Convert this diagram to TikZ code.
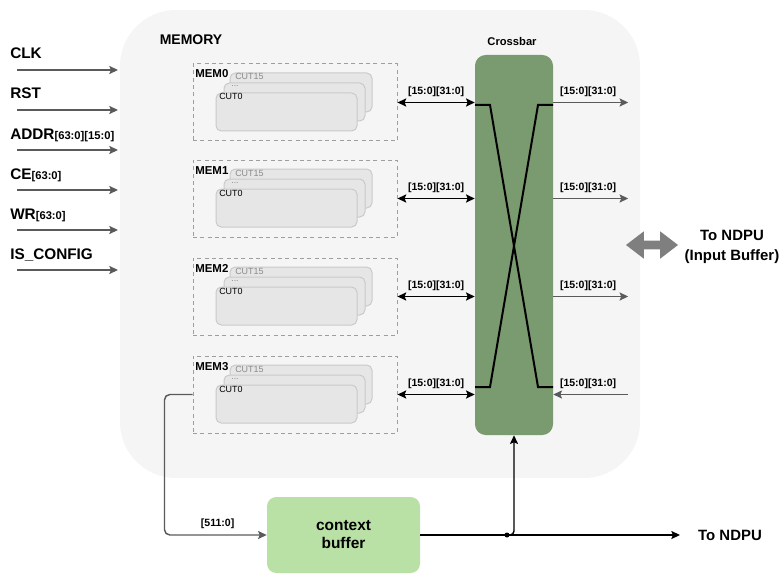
\documentclass[tikz,border=0pt]{standalone}
\usepackage{fontspec}
\setmainfont{Liberation Sans}
\usetikzlibrary{arrows.meta,shapes.arrows,calc,fit}

\definecolor{membg}{HTML}{F5F5F5}
\definecolor{cutfill}{HTML}{E6E6E6}
\definecolor{cutline}{HTML}{CACACA}
\definecolor{cutgray}{HTML}{8A8A8A}
\definecolor{dashline}{HTML}{9E9E9E}
\definecolor{xbarfill}{HTML}{7A9A6F}
\definecolor{ctxfill}{HTML}{B9E0A5}
\definecolor{wire}{HTML}{5A5A5A}
\definecolor{fatarrow}{HTML}{7F7F7F}

\newcommand{\bussub}[1]{{\fontsize{8.4}{10}\selectfont #1}}

\begin{document}
\begin{tikzpicture}[x=0.75pt,y=-0.75pt,
  memarea/.style={fill=membg, draw=none, rounded corners=42pt, inner sep=0pt},
  memblk/.style={draw=dashline, dash pattern=on 3pt off 2.5pt, line width=0.75pt, inner sep=0pt},
  card/.style={fill=cutfill, draw=cutline, line width=0.75pt, rounded corners=4pt},
  xbarbox/.style={fill=xbarfill, draw=none, rounded corners=8pt, inner sep=0pt},
  ctxbox/.style={fill=ctxfill, draw=none, rounded corners=7pt, inner sep=0pt, align=center,
    font=\fontsize{11.6}{13.5}\selectfont\bfseries},
  inlab/.style={anchor=base west, inner sep=0pt, font=\fontsize{11.5}{14}\selectfont\bfseries},
  buslab/.style={font=\fontsize{7.9}{9}\selectfont\bfseries, inner sep=1.5pt},
  memlab/.style={anchor=base west, inner sep=0pt, font=\fontsize{8.6}{10}\selectfont\bfseries},
  cutlab/.style={anchor=base west, inner sep=0pt, font=\fontsize{6.7}{8}\selectfont},
  titlelab/.style={inner sep=0pt, font=\fontsize{8.4}{10}\selectfont\bfseries},
  tip/.tip={Stealth[length=6.5pt,width=6pt,inset=1.2pt]},
  graywire/.style={draw=wire, line width=1.1pt, -tip},
  blackwire/.style={draw=black, line width=1.1pt, -tip},
  biwire/.style={draw=black, line width=1.3pt, tip-tip},
  crossline/.style={draw=black, line width=1.5pt},
]
\useasboundingbox (0,0) rectangle (784,574);

% memory area
\node[memarea, fit={(120,10) (640,478)}] (memory) {};
\node[titlelab, font=\fontsize{10.5}{12}\selectfont\bfseries] (memtitle) at (191,40) {MEMORY};

% crossbar
\node[xbarbox, fit={(475,55) (553,435)}] (xbar) {};
\node[titlelab] (xbtitle) at (512,41) {Crossbar};
\draw[crossline] (475,105) -- (490,105) -- (538,387) -- (553,387);
\draw[crossline] (553,105) -- (538,105) -- (490,387) -- (475,387);

% memory banks, each a stack of cuts
\foreach \i/\t in {0/64,1/160,2/258,3/356}{
  \node[memblk, fit={(193,\t) (397,\t+77)}] (mem\i) {};
  \draw[card] (230,\t+9) rectangle (372,\t+48);
  \draw[card] (224,\t+19) rectangle (365,\t+57);
  \draw[card] (216,\t+29) rectangle (357,\t+67);
  \node[memlab] (memname\i) at (195,\t+14) {MEM\i};
  \node[cutlab, text=cutgray] (cutlast\i) at (235,\t+16) {CUT15};
  \node[cutlab, text=cutgray] (cutdots\i) at (231,\t+23) {...};
  \node[cutlab] (cutfirst\i) at (219,\t+36) {CUT0};
  \draw[biwire] (mem\i.east) -- (mem\i.east -| xbar.west)
    node[buslab, midway, above=2pt] {[15:0][31:0]};
}

% crossbar outputs
\foreach \i in {0,1,2}{
  \coordinate (out\i) at ($(mem\i -| xbar.east)+(75,0)$);
  \draw[graywire] (mem\i -| xbar.east) -- (out\i)
    node[buslab, midway, above=2pt, xshift=-2pt] {[15:0][31:0]};
}
\coordinate (in3) at ($(mem3 -| xbar.east)+(75,0)$);
\draw[graywire] (in3) -- (mem3 -| xbar.east)
  node[buslab, midway, above=2pt, xshift=-2pt] {[15:0][31:0]};

% link to the NDPU input buffer
\node[double arrow, fill=fatarrow, draw=none, inner sep=3pt, minimum height=39pt,
  minimum width=15pt, double arrow tip angle=75, double arrow head indent=0pt] (fat) at (652,245) {};
\node[align=center, inner sep=0pt, font=\fontsize{11.2}{15}\selectfont\bfseries]
  (ndpuin) at (732,247) {To NDPU\\(Input Buffer)};

% control inputs
\foreach \n/\y/\txt in {clk/70/CLK, rst/110/RST, addr/150/{ADDR\bussub{[63:0][15:0]}},
    ce/190/{CE\bussub{[63:0]}}, wr/230/{WR\bussub{[63:0]}}, cfg/270/IS\_CONFIG}{
  \node[inlab] (\n) at (10,\y-11) {\txt};
  \coordinate (\n src) at (17,\y);
  \coordinate (\n dst) at (118,\y);
  \draw[graywire] (\n src) -- (\n dst);
}

% context buffer
\node[ctxbox, fit={(267,497) (420,573)}] (ctx) {};
\node[ctxbox, fill=none] (ctxtext) at (ctx.center) {context\\buffer};
\draw[graywire, rounded corners=4pt] (mem3.west) -- ++(-28,0) |- (ctx.west)
  node[buslab, pos=0.76, above=3pt] {[511:0]};

% context buffer outputs
\node[inner sep=0pt, font=\fontsize{11.2}{13}\selectfont\bfseries] (ndpu) at (730,535) {To NDPU};
\coordinate (ndpuend) at (680,535);
\coordinate (junc) at (507,535);
\draw[blackwire] (ctx.east) -- (ndpuend);
\draw[blackwire, rounded corners=3pt] (junc) -| (xbar.south);
\fill (junc) circle (2.5);
\end{tikzpicture}
\end{document}
